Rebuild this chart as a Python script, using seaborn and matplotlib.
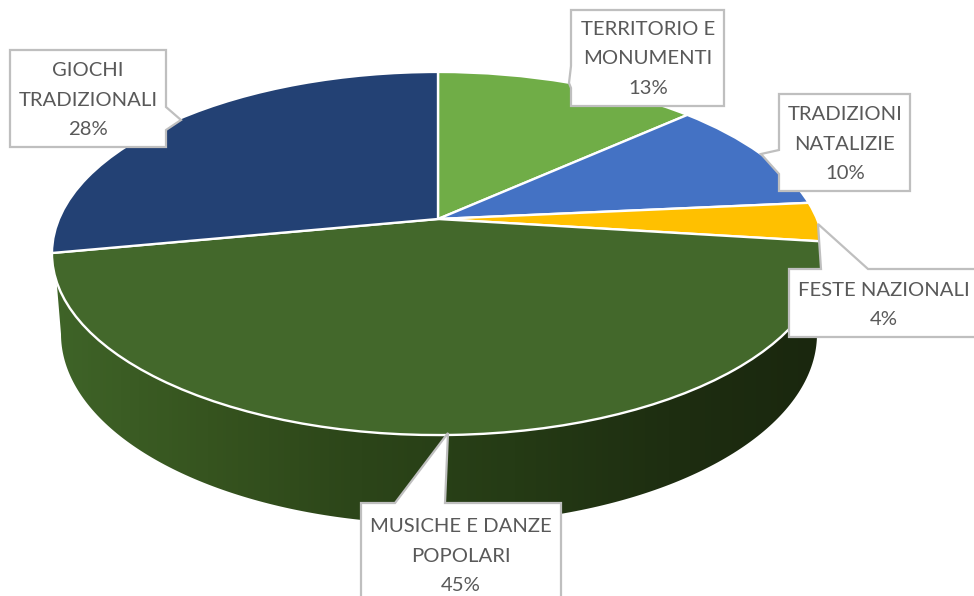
import matplotlib
matplotlib.use("Agg")
import matplotlib.pyplot as plt
import matplotlib.transforms as mtransforms
from matplotlib.patches import Polygon
import numpy as np
import seaborn as sns

categories = ["TERRITORIO E\nMONUMENTI", "TRADIZIONI\nNATALIZIE", "FESTE NAZIONALI",
              "MUSICHE E DANZE\nPOPOLARI", "GIOCHI\nTRADIZIONALI"]
shares = [13.3, 10.2, 3.5, 45, 28]
slice_colors = ["#70AD47", "#4472C4", "#FFC000", "#43682B", "#234174"]
wall_colors = ["#3F6428", "#36541F", "#2C4519", "#253B15", "#1E2E11", "#1A270E"]

# pie geometry in pixels, hub is off centre because of the perspective
HUB_X, HUB_Y = 438, 219
SCALE_X, SCALE_Y, TILT = 379, 175, 0.19
WALL_CX, WALL_CY, WALL_RX, WALL_RY = 439, 334, 378, 190

# label boxes, text centre + outline with the pointer
callouts = [
    ((648, 59), [(571, 10), (724, 10), (724, 106), (571, 106), (571, 88), (569, 83), (571, 66)]),
    ((845, 144), [(779, 94), (910, 94), (910, 191), (779, 191), (779, 174), (761, 154), (779, 150)]),
    ((884, 305), [(789, 269), (821, 269), (818, 224), (868, 269), (985, 269), (985, 337), (789, 337)]),
    ((461, 556), [(361, 503), (395, 503), (448, 433), (445, 503), (561, 503), (561, 610), (361, 610)]),
    ((88, 100), [(10, 50), (166, 50), (166, 107), (181, 120), (166, 130), (166, 147), (10, 147)]),
]


class Tilt(mtransforms.Transform):
    # unit circle -> tilted disc in pixels
    input_dims = 2
    output_dims = 2
    is_separable = False
    has_inverse = False

    def transform_non_affine(self, values):
        values = np.asarray(values, dtype=float)
        w = 1 + TILT * values[:, 1]
        return np.column_stack([HUB_X + SCALE_X * values[:, 0] / w,
                                HUB_Y - SCALE_Y * values[:, 1] / w])


sns.set_theme(style="white")
plt.rcParams['font.family'] = ['Lato', 'DejaVu Sans']

fig = plt.figure(figsize=(9.74, 5.96), dpi=100)
ax = fig.add_axes([0, 0, 1, 1])

# side wall, a gradient clipped to the lower rim
t = np.linspace(np.pi, 0, 200)
wall_x = WALL_CX + WALL_RX * np.cos(t)
wall_y = WALL_CY + WALL_RY * np.sin(t)
wall_path = np.column_stack([np.r_[55, wall_x, 819], np.r_[262, wall_y, 262]])
wall = Polygon(wall_path, closed=True, facecolor="none", edgecolor="none")
ax.add_patch(wall)
wall_cmap = sns.blend_palette(wall_colors, as_cmap=True)
im = ax.imshow(np.linspace(0, 1, 256)[None, :], cmap=wall_cmap, aspect="auto",
               extent=(52, 822, 596, 0), zorder=1)
im.set_clip_path(wall)

wedges, _ = ax.pie(shares, colors=sns.color_palette(slice_colors), startangle=90, counterclock=False,
                   wedgeprops={"edgecolor": "white", "linewidth": 1.7, "zorder": 2})
for w in wedges:
    w.set_transform(Tilt() + ax.transData)

for (pos, outline), name, share in zip(callouts, categories, shares):
    ax.add_patch(Polygon(outline, closed=True, facecolor="white", edgecolor="#BFBFBF",
                         linewidth=1.6, joinstyle="miter", zorder=3))
    ax.text(pos[0], pos[1], "{}\n{:.0f}%".format(name, share), ha="center", va="center", multialignment="center",
            color="#595959", fontsize=14.6, linespacing=1.88, zorder=4)

ax.set_aspect("auto")
ax.set_xlim(0, 974)
ax.set_ylim(596, 0)
ax.axis("off")

fig.savefig("out.png", dpi=100, facecolor="white")
